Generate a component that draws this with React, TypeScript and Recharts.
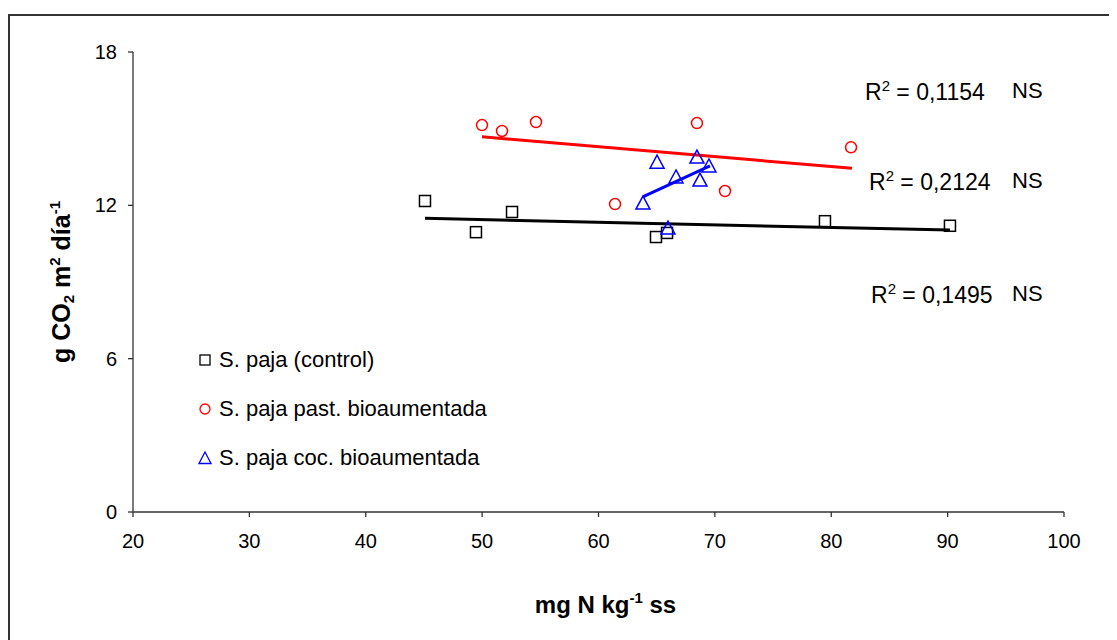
import React from 'react';
import { ComposedChart, Scatter, XAxis, YAxis, Legend } from 'recharts';

// ---- data ----
const xTicks = [20, 30, 40, 50, 60, 70, 80, 90, 100];
const yTicks = [0, 6, 12, 18];

const seriesNames = ['S. paja (control)', 'S. paja past. bioaumentada', 'S. paja coc. bioaumentada'];

const controlX = [45.09, 49.47, 52.57, 64.94, 65.89, 79.46, 90.2];
const controlY = [12.17, 10.95, 11.74, 10.76, 10.92, 11.38, 11.2];

const pastX = [49.99, 51.71, 54.63, 61.42, 68.46, 70.87, 81.7];
const pastY = [15.14, 14.91, 15.26, 12.05, 15.22, 12.56, 14.27];

const cocX = [63.82, 65.03, 65.97, 66.66, 68.46, 68.72, 69.49];
const cocY = [12.09, 13.69, 11.11, 13.11, 13.89, 12.99, 13.54];

// trend line end points
const controlTrendX = [45.09, 90.2];
const controlTrendY = [11.49, 11.03];
const pastTrendX = [49.99, 81.78];
const pastTrendY = [14.68, 13.45];
const cocTrendX = [63.85, 69.58];
const cocTrendY = [12.34, 13.54];

const r2Labels = ['0,1154', '0,2124', '0,1495'];
const sigLabels = ['NS', 'NS', 'NS'];

const zip = (xs: number[], ys: number[]) => xs.map((x, i) => ({ x, y: ys[i] }));

const controlData = zip(controlX, controlY);
const pastData = zip(pastX, pastY);
const cocData = zip(cocX, cocY);
const controlTrend = zip(controlTrendX, controlTrendY);
const pastTrend = zip(pastTrendX, pastTrendY);
const cocTrend = zip(cocTrendX, cocTrendY);

const FONT = '"Liberation Sans", Arial, sans-serif';
const BLACK = '#000000';
const RED = '#ff0000';
const BLUE = '#0000ff';

const SquareShape = (p: any) => (
  <rect x={p.cx - 5.5} y={p.cy - 5.5} width={11} height={11} fill="none" stroke={BLACK} strokeWidth={1.5} />
);
const CircleShape = (p: any) => (
  <circle cx={p.cx} cy={p.cy} r={5.5} fill="none" stroke={RED} strokeWidth={1.5} />
);
const TriangleShape = (p: any) => (
  <path
    d={`M${p.cx},${p.cy - 7} L${p.cx + 7},${p.cy + 6} L${p.cx - 7},${p.cy + 6} Z`}
    fill="none"
    stroke={BLUE}
    strokeWidth={1.5}
  />
);
const NoShape = () => <g />;

const legendMarkers = [
  <rect key="s" x={2} y={2} width={10} height={10} fill="none" stroke={BLACK} strokeWidth={1.3} />,
  <circle key="c" cx={7} cy={7} r={5} fill="none" stroke={RED} strokeWidth={1.3} />,
  <path key="t" d="M7,1 L13,12.5 L1,12.5 Z" fill="none" stroke={BLUE} strokeWidth={1.3} />,
];

const renderLegend = () => (
  <div style={{ fontFamily: FONT, fontSize: 22, color: '#000' }}>
    {seriesNames.map((n, i) => (
      <div key={n} style={{ height: 49, display: 'flex', alignItems: 'center' }}>
        <svg width={14} height={14} style={{ marginRight: 7 }}>
          {legendMarkers[i]}
        </svg>
        <span>{n}</span>
      </div>
    ))}
  </div>
);

const XTitle = (props: any) => {
  const vb = props.viewBox;
  const cx = vb.x + vb.width / 2 + 7;
  return (
    <text x={cx} y={605} textAnchor="middle" fontFamily={FONT} fontWeight="bold" fontSize={24} fill="#000">
      <tspan>mg N kg</tspan>
      <tspan dy={-10} fontSize={15}>-1</tspan>
      <tspan dy={10}> ss</tspan>
    </text>
  );
};

const YTitle = (props: any) => {
  const vb = props.viewBox;
  const cy = vb.y + vb.height / 2;
  const x = 62;
  return (
    <text
      x={x}
      y={cy}
      transform={`rotate(-90 ${x} ${cy})`}
      textAnchor="middle"
      fontFamily={FONT}
      fontWeight="bold"
      fontSize={25}
      fill="#000"
    >
      <tspan>g CO</tspan>
      <tspan dy={4} fontSize={15}>2</tspan>
      <tspan dy={-4}> m</tspan>
      <tspan dy={-10} fontSize={15}>2</tspan>
      <tspan dy={10}> día</tspan>
      <tspan dy={-10} fontSize={15}>-1</tspan>
    </text>
  );
};

const r2Pos = [
  { left: 857, top: 72.8 },
  { left: 861, top: 162.8 },
  { left: 863, top: 275.8 },
];

export default function App() {
  return (
    <div style={{ position: 'relative', width: 1109, height: 632 }}>
      <style>{'body{overflow:hidden}'}</style>
      <div
        style={{
          position: 'absolute',
          left: 0,
          top: 6,
          width: 1130,
          height: 700,
          border: '2px solid #333',
          boxSizing: 'border-box',
        }}
      />
      <ComposedChart
        width={1109}
        height={624}
        margin={{ top: 44, right: 53, left: 65, bottom: 90 }}
        style={{ position: 'absolute', left: 0, top: 0 }}
      >
        <XAxis
          type="number"
          dataKey="x"
          domain={[20, 100]}
          ticks={xTicks}
          height={30}
          tickSize={5}
          tickMargin={17}
          axisLine={{ stroke: '#333', strokeWidth: 1.3 }}
          tickLine={{ stroke: '#333', strokeWidth: 1.3 }}
          tick={{ fill: '#000', fontSize: 20, fontFamily: FONT }}
          label={<XTitle />}
        />
        <YAxis
          type="number"
          dataKey="y"
          domain={[0, 18]}
          ticks={yTicks}
          width={60}
          tickSize={5}
          tickMargin={11}
          axisLine={{ stroke: '#333', strokeWidth: 1.3 }}
          tickLine={{ stroke: '#333', strokeWidth: 1.3 }}
          tick={{ fill: '#000', fontSize: 20, fontFamily: FONT }}
          label={<YTitle />}
        />
        <Scatter data={controlTrend} line={{ stroke: BLACK, strokeWidth: 3 }} shape={NoShape} legendType="none" isAnimationActive={false} />
        <Scatter data={pastTrend} line={{ stroke: RED, strokeWidth: 3 }} shape={NoShape} legendType="none" isAnimationActive={false} />
        <Scatter data={cocTrend} line={{ stroke: BLUE, strokeWidth: 3 }} shape={NoShape} legendType="none" isAnimationActive={false} />
        <Scatter name={seriesNames[0]} data={controlData} shape={SquareShape} isAnimationActive={false} />
        <Scatter name={seriesNames[1]} data={pastData} shape={CircleShape} isAnimationActive={false} />
        <Scatter name={seriesNames[2]} data={cocData} shape={TriangleShape} isAnimationActive={false} />
        <Legend
          layout="vertical"
          align="center"
          verticalAlign="middle"
          content={renderLegend}
          wrapperStyle={{ left: 190, top: 327.5, width: 340 }}
        />
      </ComposedChart>
      {r2Labels.map((r, i) => (
        <React.Fragment key={i}>
          <div
            style={{
              position: 'absolute',
              left: r2Pos[i].left,
              top: r2Pos[i].top,
              fontFamily: FONT,
              fontSize: 23,
              lineHeight: '23px',
              whiteSpace: 'nowrap',
              color: '#000',
            }}
          >
            R<span style={{ fontSize: 15, position: 'relative', top: -9 }}>2</span> = {r}
          </div>
          <div
            style={{
              position: 'absolute',
              left: 1004,
              top: r2Pos[i].top - 1,
              fontFamily: FONT,
              fontSize: 22,
              lineHeight: '22px',
              whiteSpace: 'nowrap',
              color: '#000',
            }}
          >
            {sigLabels[i]}
          </div>
        </React.Fragment>
      ))}
    </div>
  );
}
